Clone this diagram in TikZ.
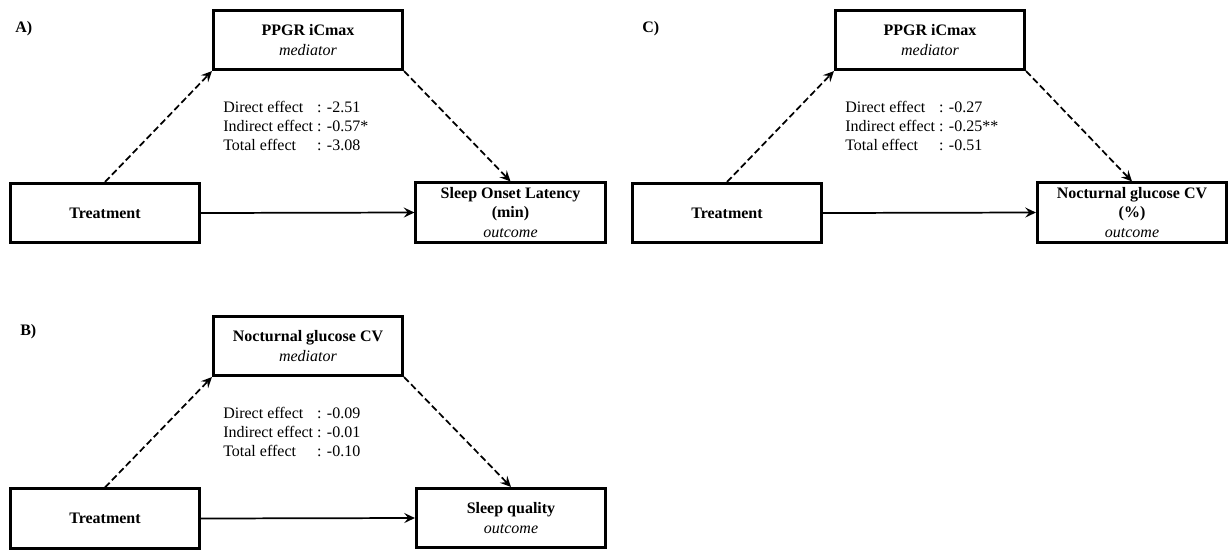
\documentclass[tikz,border=0pt]{standalone}
\usepackage{fontspec}
\setmainfont{Liberation Serif}
\usetikzlibrary{arrows.meta}
\begin{document}
\begin{tikzpicture}[x=0.75pt,y=-0.75pt,
  box/.style={draw, line width=2.1pt, minimum width=142pt, minimum height=44.5pt,
    inner sep=0pt, align=center, font=\fontsize{12pt}{14.6pt}\selectfont},
  panel/.style={anchor=base west, inner sep=0pt, font=\fontsize{12pt}{14.6pt}\selectfont\bfseries},
  stats/.style={anchor=base west, inner sep=0pt, font=\fontsize{12pt}{14.6pt}\selectfont},
  dasharrow/.style={line width=1.3pt, dash pattern=on 5pt off 2.5pt,
    -{Stealth[length=8pt,width=7.5pt,inset=3pt]}},
  solidarrow/.style={line width=1.3pt, -{Stealth[length=8pt,width=7.5pt,inset=3pt]}}]
\useasboundingbox (0,0) rectangle (1232,551);

% ---------- Panel A ----------
\node[panel] (labA) at (15,32) {A)};
\node[box] (tA) at (105,213) {\textbf{Treatment}};
\node[box] (mA) at (308,40) {\textbf{PPGR iCmax}\\\textit{mediator}};
\node[box] (oA) at (510.5,212.5) {\textbf{Sleep Onset Latency}\\\textbf{(min)}\\\textit{outcome}};
\node[stats] (sA) at (223,112) {\begin{tabular}[t]{@{}l@{ }l@{}}Direct effect & : -2.51\\ Indirect effect & : -0.57*\\ Total effect & : -3.08\end{tabular}};
\draw[dasharrow] (tA.north) -- (mA.south west);
\draw[dasharrow] (mA.south east) -- (oA.north);
\draw[solidarrow] (tA.east) -- (oA.west);

% ---------- Panel B ----------
\node[panel] (labB) at (20,335) {B)};
\node[box] (tB) at (105,518.5) {\textbf{Treatment}};
\node[box] (mB) at (308,346) {\textbf{Nocturnal glucose CV}\\\textit{mediator}};
\node[box] (oB) at (511,518) {\textbf{Sleep quality}\\\textit{outcome}};
\node[stats] (sB) at (223,418) {\begin{tabular}[t]{@{}l@{ }l@{}}Direct effect & : -0.09\\ Indirect effect & : -0.01\\ Total effect & : -0.10\end{tabular}};
\draw[dasharrow] (tB.north) -- (mB.south west);
\draw[dasharrow] (mB.south east) -- (oB.north);
\draw[solidarrow] (tB.east) -- (oB.west);

% ---------- Panel C ----------
\node[panel] (labC) at (642,32) {C)};
\node[box] (tC) at (727,213) {\textbf{Treatment}};
\node[box] (mC) at (930,40) {\textbf{PPGR iCmax}\\\textit{mediator}};
\node[box] (oC) at (1132,212.5) {\textbf{Nocturnal glucose CV}\\\textbf{(\%)}\\\textit{outcome}};
\node[stats] (sC) at (845,112) {\begin{tabular}[t]{@{}l@{ }l@{}}Direct effect & : -0.27\\ Indirect effect & : -0.25**\\ Total effect & : -0.51\end{tabular}};
\draw[dasharrow] (tC.north) -- (mC.south west);
\draw[dasharrow] (mC.south east) -- (oC.north);
\draw[solidarrow] (tC.east) -- (oC.west);
\end{tikzpicture}
\end{document}
